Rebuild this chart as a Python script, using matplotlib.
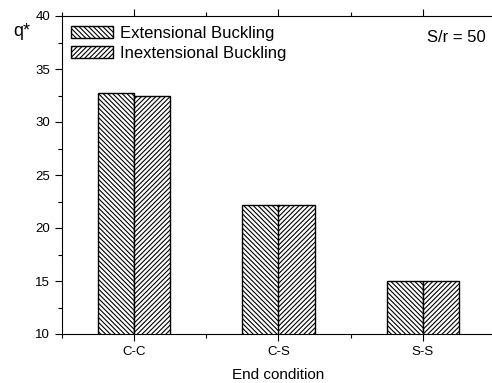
import matplotlib
matplotlib.use("Agg")
import matplotlib.pyplot as plt
from matplotlib.ticker import MultipleLocator
import numpy as np

plt.rcParams['font.family'] = ['Liberation Sans', 'DejaVu Sans']
plt.rcParams['hatch.linewidth'] = 0.8

categories = ["C-C", "C-S", "S-S"]
extensional = [32.7, 22.2, 15.0]
inextensional = [32.45, 22.15, 15.0]
series_labels = ["Extensional Buckling", "Inextensional Buckling"]

W, H = 492, 383
fig = plt.figure(figsize=(W/100, H/100), dpi=100)
left, right, top, bottom = 62, 495, 16, 334
ax = fig.add_axes([left/W, 1 - bottom/H, (right-left)/W, (bottom-top)/H])

x = np.arange(1, len(categories) + 1)
bw = 0.25
ax.bar(x - bw/2, extensional, bw, color='white', edgecolor='black',
       hatch='\\\\\\\\\\\\\\', linewidth=1.0, label=series_labels[0])
ax.bar(x + bw/2, inextensional, bw, color='white', edgecolor='black',
       hatch='///////', linewidth=1.0, label=series_labels[1])

ax.set_xlim(0.5, 3.5)
ax.set_ylim(10, 40)
ax.set_xticks(x)
ax.set_xticklabels(categories)
ax.xaxis.set_minor_locator(MultipleLocator(0.5))
ax.yaxis.set_major_locator(MultipleLocator(5))
ax.yaxis.set_minor_locator(MultipleLocator(2.5))
ax.tick_params(axis='both', which='major', direction='out', length=5, width=0.8, labelsize=9.5)
ax.tick_params(axis='both', which='minor', direction='out', length=3, width=0.8)
ax.tick_params(axis='x', which='both', top=True)
ax.spines['right'].set_visible(False)
ax.set_xlabel("End condition", fontsize=11, labelpad=7)
for s in ax.spines.values():
    s.set_linewidth(0.8)

fig.text(13/W, 1 - 31/H, "q*", fontsize=13, va='center', ha='left')
fig.text(427/W, 1 - 37/H, "S/r = 50", fontsize=12, va='center', ha='left')

leg = ax.legend(loc='upper left', bbox_to_anchor=((71-left)/(right-left), 1 - (26-top)/(bottom-top)),
                frameon=False, fontsize=12, handlelength=2.5, handleheight=0.72,
                handletextpad=0.42, labelspacing=0.3, borderaxespad=0.0, borderpad=0.0)

fig.savefig("out.png", dpi=100)
